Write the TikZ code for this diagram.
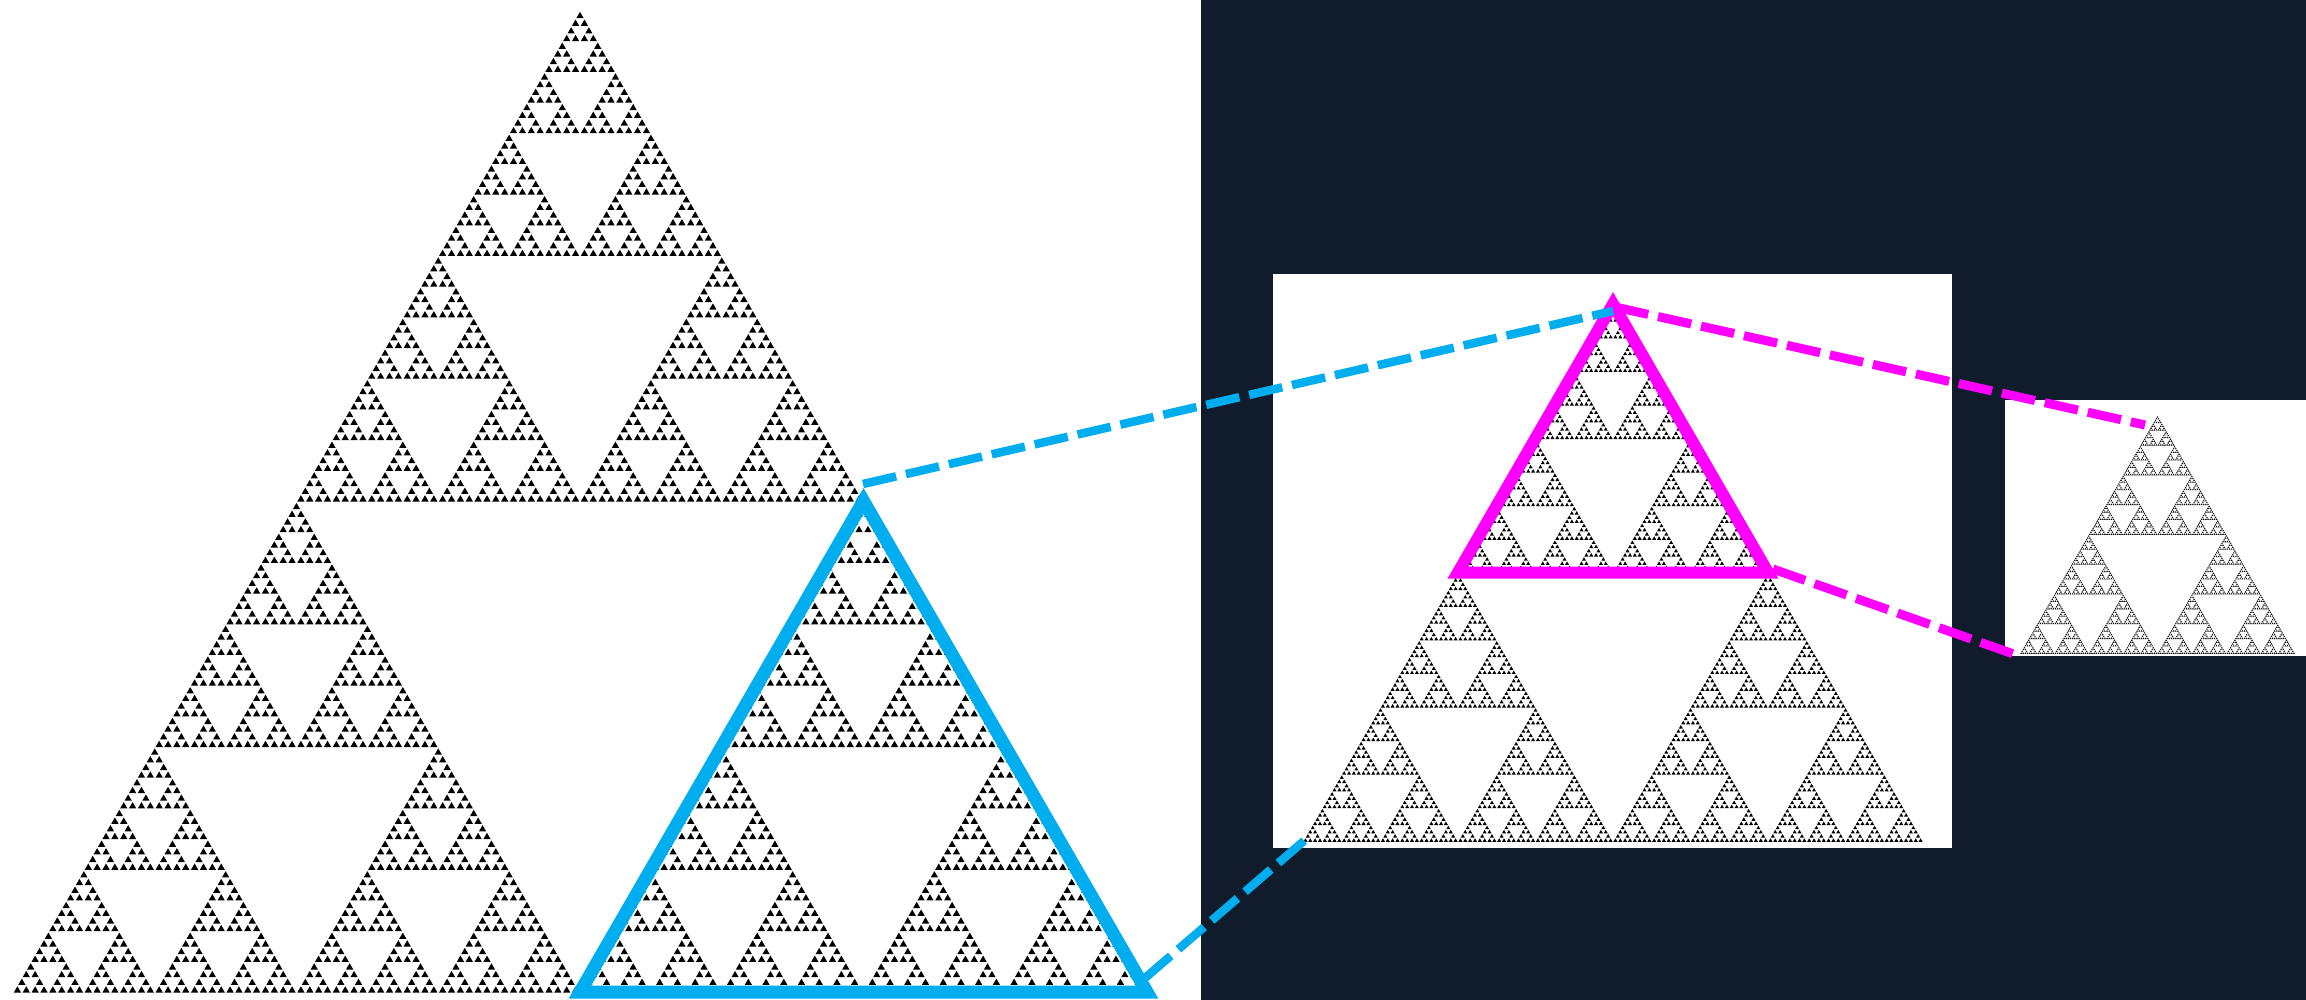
\documentclass[tikz,border=0pt]{standalone}
\definecolor{navy}{HTML}{101B2C}
\definecolor{skyb}{HTML}{00AEEF}
\definecolor{mag}{HTML}{FF00FF}
% Sierpinski triangle drawn as small blobs (shrunk leaf triangles)
% #1 depth, #2 x of bottom-left, #3 y of base (pixels, downward), #4 width
\newcommand\sierleaf[2]{%
  \fill[sierfill] (#1+\lfdx,#2-\lfdy) -- ++(\lfw,0) -- ++(-\lfhw,-\lfh) -- cycle;}
\newcommand\siertri[4]{%
 \ifnum#1>0\relax
  \edef\snext{%
   \noexpand\siertri{\the\numexpr#1-1\relax}{#2}{#3}{\fpeval{#4/2}}%
   \noexpand\siertri{\the\numexpr#1-1\relax}{\fpeval{#2+#4/2}}{#3}{\fpeval{#4/2}}%
   \noexpand\siertri{\the\numexpr#1-1\relax}{\fpeval{#2+#4/4}}{\fpeval{#3-#4*0.4330127}}{\fpeval{#4/2}}}%
  \snext
 \else
  \sierleaf{#2}{#3}%
 \fi}
% #1 depth, #2 x, #3 y, #4 width, #5 blob scale
\newcommand\sierpinski[5]{%
 \begingroup
  \edef\lfw{\fpeval{#5*#4/2^#1}}%
  \edef\lfhw{\fpeval{\lfw/2}}%
  \edef\lfh{\fpeval{\lfw*0.8660254}}%
  \edef\lfdx{\fpeval{(1-#5)*#4/2^#1/2}}%
  \edef\lfdy{\fpeval{(1-#5)*#4/2^#1*0.8660254/3}}%
  \siertri{#1}{#2}{#3}{#4}%
 \endgroup}
\begin{document}
\begin{tikzpicture}[x=0.01cm,y=-0.01cm,
  sierfill/.style={fill=black},
  bluetri/.style={draw=skyb,line width=0.13cm},
  magtri/.style={draw=mag,line width=0.12cm},
  bluedash/.style={draw=skyb,line width=0.085cm,dash pattern=on 0.34cm off 0.1cm},
  magdash/.style={draw=mag,line width=0.09cm,dash pattern=on 0.34cm off 0.1cm},
  panel/.style={fill=white,draw=none}]
\useasboundingbox (0,0) rectangle (2306,1000);
% backgrounds
\fill[white] (0,0) rectangle (1201,1000);
\fill[navy] (1201,0) rectangle (2306,1000);
\path[panel] (1273,274) rectangle (1952,848);
\path[panel] (2005,400) rectangle (2306,656);
% big Sierpinski triangle
\sierpinski{7}{13}{993}{1134}{0.82}
% middle Sierpinski triangle
\sierpinski{7}{1303}{842}{620}{0.84}
% small Sierpinski triangle
\sierpinski{7}{2020}{654}{275}{0.85}
% highlighted sub-triangles
\coordinate (bA) at (863.5,501);
\coordinate (bL) at (580,992);
\coordinate (bR) at (1147,992);
\coordinate (mA) at (1613,304.1);
\coordinate (mL) at (1458,572.5);
\coordinate (mR) at (1768,572.5);
\draw[bluetri] (bL) -- (bR) -- (bA) -- cycle;
\draw[magtri] (mL) -- (mR) -- (mA) -- cycle;
% connector ends
\coordinate (b1s) at (863,484);
\coordinate (b1e) at (1613,311);
\coordinate (b2s) at (1145,978);
\coordinate (b2e) at (1305,840);
\coordinate (m1s) at (1615,307);
\coordinate (m1e) at (2145,425);
\coordinate (m2s) at (1773,569);
\coordinate (m2e) at (2022,657);
\draw[bluedash] (b1s) -- (b1e);
\draw[bluedash] (b2s) -- (b2e);
\draw[magdash] (m1s) -- (m1e);
\draw[magdash] (m2s) -- (m2e);
\end{tikzpicture}
\end{document}
